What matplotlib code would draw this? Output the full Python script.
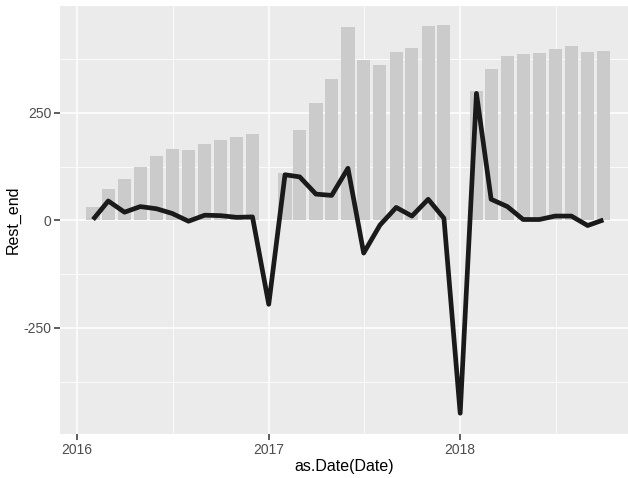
import numpy as np
import pandas as pd
import matplotlib
matplotlib.use("Agg")
import matplotlib.pyplot as plt
import matplotlib.dates as mdates

# monthly dates, Feb 2016 .. Oct 2018
dates = pd.date_range("2016-02-01", "2018-10-01", freq="MS")

# line: Rest_end
rest_end = [2, 45, 19, 32, 27, 16, -2, 12, 11, 7, 8,
            -195, 106, 101, 61, 58, 121, -76, -11, 30, 10, 49, 5,
            -448, 295, 49, 32, 2, 2, 10, 10, -12, 1]

# bars: running total within the year
rest_cum = [32, 74, 95, 125, 149, 165, 163, 177, 187, 193, 200,
            2, 110, 210, 272, 329, 450, 373, 360, 392, 401, 451, 454,
            2, 300, 351, 382, 386, 389, 397, 405, 391, 394]

y_ticks = [-250, 0, 250]
x_ticks = ["2016-01-01", "2017-01-01", "2018-01-01"]

plt.rcParams['font.family'] = ['Liberation Sans', 'DejaVu Sans']
plt.rcParams['axes.unicode_minus'] = False

fig = plt.figure(figsize=(6.28, 4.78), dpi=100)
ax = fig.add_axes([60/628, 1-434.3/478, 567.5/628, 428.3/478])
ax.set_facecolor('#EBEBEB')

# grid lines (ggplot style)
x_major = mdates.date2num(pd.to_datetime(x_ticks))
x_minor = (x_major[:-1] + x_major[1:]) / 2
x_minor = np.append(x_minor, x_major[-1] + (x_major[1] - x_major[0]) / 2)
for v in [-375, -125, 125, 375]:
    ax.axhline(v, color='white', lw=0.55, zorder=0)
for v in x_minor:
    ax.axvline(v, color='white', lw=0.55, zorder=0)
for v in y_ticks:
    ax.axhline(v, color='white', lw=1.1, zorder=0)
for v in x_major:
    ax.axvline(v, color='white', lw=1.1, zorder=0)

xnum = mdates.date2num(dates)
ax.bar(xnum, rest_cum, width=25, color='#CBCBCB', zorder=1)
ax.plot(xnum, rest_end, color='#1A1A1A', lw=3.4, zorder=2,
        solid_joinstyle='round', solid_capstyle='butt')

ax.set_xlim(mdates.date2num(pd.Timestamp("2015-11-30")),
            mdates.date2num(pd.Timestamp("2018-11-16")))
ax.set_ylim(-497, 498)

ax.set_xticks(x_major)
ax.set_xticklabels(["2016", "2017", "2018"])
ax.set_yticks(y_ticks)
ax.tick_params(axis='both', colors='#333333', length=4, width=1.1,
               labelsize=10, labelcolor='#4D4D4D', pad=2)
for s in ax.spines.values():
    s.set_visible(False)

ax.set_xlabel("as.Date(Date)", fontsize=11.5, color='black', labelpad=2)
ax.set_ylabel("Rest_end", fontsize=11.5, color='black', labelpad=2)

fig.savefig("out.png", dpi=100)
